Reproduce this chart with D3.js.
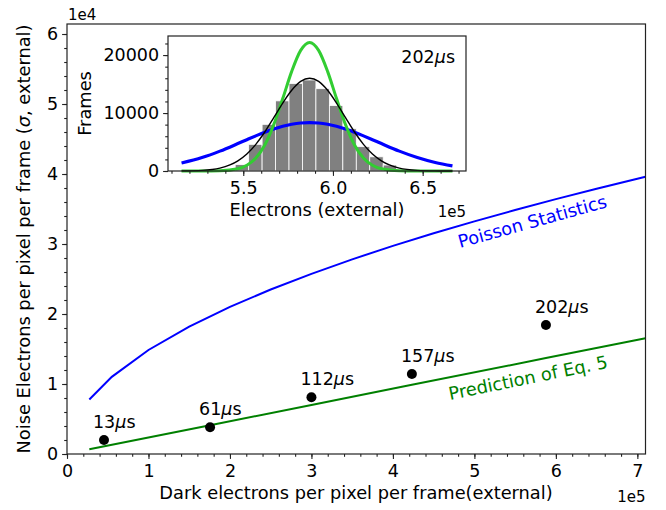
<!DOCTYPE html>
<html>
<head>
<meta charset="utf-8">
<script src="https://d3js.org/d3.v7.min.js"></script>
<style>
  body { margin: 0; background: #fff; }
  text { font-family: "DejaVu Sans", sans-serif; }
</style>
</head>
<body>
<script>
// main plot: x in units of 1e5 electrons, y in units of 1e4 electrons
var darkX = [0.454, 1.756, 3.0, 4.233, 5.878];
var noiseY = [0.20, 0.381, 0.81, 1.143, 1.843];
var expLabels = ["13", "61", "112", "157", "202"];

var poissonX = [0.274, 0.55, 1.0, 1.5, 2.0, 2.5, 3.0, 3.5, 4.0, 4.5, 5.0, 5.5, 6.0, 6.5, 7.1];
var poissonY = [0.778, 1.102, 1.486, 1.820, 2.102, 2.350, 2.574, 2.781, 2.973, 3.153, 3.323, 3.486, 3.641, 3.789, 3.960];

var predX = [0.274, 1.756, 3.0, 4.233, 5.878, 7.1];
var predY = [0.067, 0.411, 0.701, 0.988, 1.370, 1.654];

var mainTicksX = [0, 1, 2, 3, 4, 5, 6, 7];
var mainTicksY = [0, 1, 2, 3, 4, 5, 6];

// inset: 202us frame histogram, x in 1e5 electrons, y in frames
var binEdges = [5.38, 5.455, 5.53, 5.605, 5.68, 5.755, 5.83, 5.905, 5.98, 6.055, 6.13, 6.205, 6.28, 6.355, 6.43];
var binCounts = [250, 1100, 4600, 8050, 12100, 15100, 15700, 14200, 11300, 7300, 4200, 2450, 1030, 250];

var insetX = [5.156, 5.27, 5.37, 5.47, 5.52, 5.57, 5.62, 5.67, 5.72, 5.77, 5.82, 5.87,
              5.92, 5.97, 6.02, 6.07, 6.12, 6.17, 6.22, 6.27, 6.37, 6.47, 6.57, 6.666];
var fitBlue = [1380, 2320, 3430, 4730, 5400, 6060, 6690, 7240, 7710, 8060, 8280, 8350,
               8280, 8060, 7710, 7240, 6690, 6060, 5400, 4730, 3430, 2320, 1460, 880];
var fitBlack = [15, 110, 500, 1750, 2930, 4600, 6730, 9200, 11720, 13930, 15460, 16000,
                15460, 13930, 11720, 9200, 6730, 4600, 2930, 1750, 500, 110, 20, 0];
var fitGreen = [0, 2, 40, 380, 980, 2230, 4500, 8000, 12490, 17190, 20810, 22180,
                20810, 17190, 12490, 8000, 4500, 2230, 980, 380, 40, 2, 0, 0];

var insetTicksX = [5.5, 6.0, 6.5];
var insetTicksY = [0, 10000, 20000];

var W = 666, H = 510;
var svg = d3.select("body").append("svg").attr("width", W).attr("height", H);

var x = d3.scaleLinear().domain([0, 7.1]).range([67, 645.5]);
var y = d3.scaleLinear().domain([0, 6.143]).range([454, 24]);

svg.append("clipPath").attr("id", "mainclip")
  .append("rect").attr("x", 67).attr("y", 24).attr("width", 578.5).attr("height", 430);

function range(a, b, s) {
  var out = [];
  for (var v = a; v <= b + 1e-9; v += s) out.push(+v.toFixed(4));
  return out;
}

function styleAxis(g) {
  g.select(".domain").remove();
  g.selectAll("line").attr("stroke", "#222").attr("stroke-width", 1.1);
  g.selectAll("text").attr("font-family", "DejaVu Sans").attr("font-size", "17.5px").attr("fill", "#000");
}

// main axes ticks
svg.append("g").attr("transform", "translate(0,454)")
  .call(d3.axisBottom(x).tickValues(range(0, 7.0, 0.2)).tickSize(2.8).tickFormat(""))
  .call(styleAxis);
svg.append("g").attr("transform", "translate(0,454)")
  .call(d3.axisBottom(x).tickValues(mainTicksX).tickSize(4.9).tickPadding(6).tickFormat(d3.format("d")))
  .call(styleAxis);
svg.append("g").attr("transform", "translate(67,0)")
  .call(d3.axisLeft(y).tickValues(range(0, 6.0, 0.2)).tickSize(2.8).tickFormat(""))
  .call(styleAxis);
svg.append("g").attr("transform", "translate(67,0)")
  .call(d3.axisLeft(y).tickValues(mainTicksY).tickSize(4.9).tickPadding(4).tickFormat(d3.format("d")))
  .call(styleAxis);

var plot = svg.append("g").attr("clip-path", "url(#mainclip)");

var line = d3.line().x(function (d) { return x(d[0]); }).y(function (d) { return y(d[1]); });

plot.append("path")
  .attr("d", line(d3.zip(poissonX, poissonY)))
  .attr("fill", "none").attr("stroke", "#0000ff").attr("stroke-width", 2);

plot.append("path")
  .attr("d", line(d3.zip(predX, predY)))
  .attr("fill", "none").attr("stroke", "#008000").attr("stroke-width", 2);

plot.selectAll("circle.pt").data(d3.zip(darkX, noiseY)).enter()
  .append("circle").attr("class", "pt")
  .attr("cx", function (d) { return x(d[0]); })
  .attr("cy", function (d) { return y(d[1]); })
  .attr("r", 5).attr("fill", "#000");

// exposure labels
var lab = svg.selectAll("text.exp").data(d3.zip(darkX, noiseY, expLabels)).enter()
  .append("text").attr("class", "exp")
  .attr("x", function (d) { return x(d[0]) - 11; })
  .attr("y", function (d) { return y(d[1]) - 12; })
  .attr("font-size", "17.5px").attr("fill", "#000");
lab.append("tspan").text(function (d) { return d[2]; });
lab.append("tspan").attr("font-style", "italic").text("\u03bc");
lab.append("tspan").text("s");

svg.append("text")
  .attr("transform", "translate(460,248) rotate(-15.5)")
  .attr("font-size", "17.8px").attr("fill", "#0000ff")
  .text("Poisson Statistics");

svg.append("text")
  .attr("transform", "translate(450,400) rotate(-11.5)")
  .attr("font-size", "17.8px").attr("fill", "#008000")
  .text("Prediction of Eq. 5");

// frame
svg.append("rect").attr("x", 67).attr("y", 24).attr("width", 578.5).attr("height", 430)
  .attr("fill", "none").attr("stroke", "#222").attr("stroke-width", 1.2);

// main labels
svg.append("text").attr("x", 356).attr("y", 499).attr("text-anchor", "middle")
  .attr("font-size", "17.8px").text("Dark electrons per pixel per frame(external)");
svg.append("text").attr("x", 645.5).attr("y", 502).attr("text-anchor", "end")
  .attr("font-size", "15px").text("1e5");
svg.append("text").attr("x", 68).attr("y", 20)
  .attr("font-size", "15px").text("1e4");

var yl = svg.append("text").attr("transform", "translate(30,239) rotate(-90)")
  .attr("text-anchor", "middle").attr("font-size", "17.8px");
yl.append("tspan").text("Noise Electrons per pixel per frame (");
yl.append("tspan").attr("font-style", "italic").text("\u03c3");
yl.append("tspan").text(", external)");

// ---- inset ----
var ix = d3.scaleLinear().domain([5.0805, 6.7415]).range([168, 466]);
var iy = d3.scaleLinear().domain([0, 23290]).range([171, 36]);

svg.append("rect").attr("x", 168).attr("y", 36).attr("width", 298).attr("height", 135)
  .attr("fill", "#fff");

svg.append("g").selectAll("rect").data(binCounts).enter()
  .append("rect")
  .attr("x", function (d, i) { return ix(binEdges[i]); })
  .attr("width", function (d, i) { return ix(binEdges[i + 1]) - ix(binEdges[i]); })
  .attr("y", function (d) { return iy(d); })
  .attr("height", function (d) { return iy(0) - iy(d); })
  .attr("fill", "#808080").attr("stroke", "#fff").attr("stroke-width", 0.8);

var iline = d3.line().curve(d3.curveMonotoneX)
  .x(function (d) { return ix(d[0]); }).y(function (d) { return iy(d[1]); });

svg.append("path").attr("d", iline(d3.zip(insetX, fitBlue)))
  .attr("fill", "none").attr("stroke", "#0000ff").attr("stroke-width", 3.2);
svg.append("path").attr("d", iline(d3.zip(insetX, fitGreen)))
  .attr("fill", "none").attr("stroke", "#32cd32").attr("stroke-width", 3);
svg.append("path").attr("d", iline(d3.zip(insetX, fitBlack)))
  .attr("fill", "none").attr("stroke", "#000").attr("stroke-width", 1.4);

svg.append("g").attr("transform", "translate(0,171)")
  .call(d3.axisBottom(ix).tickValues(range(5.1, 6.7, 0.1)).tickSize(2.8).tickFormat(""))
  .call(styleAxis);
svg.append("g").attr("transform", "translate(0,171)")
  .call(d3.axisBottom(ix).tickValues(insetTicksX).tickSize(4.9).tickPadding(6).tickFormat(d3.format(".1f")))
  .call(styleAxis);
svg.append("g").attr("transform", "translate(168,0)")
  .call(d3.axisLeft(iy).tickValues(range(0, 22000, 2000)).tickSize(2.8).tickFormat(""))
  .call(styleAxis);
svg.append("g").attr("transform", "translate(168,0)")
  .call(d3.axisLeft(iy).tickValues(insetTicksY).tickSize(4.9).tickPadding(4).tickFormat(d3.format("d")))
  .call(styleAxis);

svg.append("rect").attr("x", 168).attr("y", 36).attr("width", 298).attr("height", 135)
  .attr("fill", "none").attr("stroke", "#222").attr("stroke-width", 1.2);

svg.append("text").attr("x", 317).attr("y", 216).attr("text-anchor", "middle")
  .attr("font-size", "17.8px").text("Electrons (external)");
svg.append("text").attr("x", 466).attr("y", 216.5).attr("text-anchor", "end")
  .attr("font-size", "15px").text("1e5");
svg.append("text").attr("transform", "translate(91,103.5) rotate(-90)")
  .attr("text-anchor", "middle").attr("font-size", "17.8px").text("Frames");

var it = svg.append("text").attr("x", 455).attr("y", 63).attr("text-anchor", "end")
  .attr("font-size", "17.5px");
it.append("tspan").text("202");
it.append("tspan").attr("font-style", "italic").text("\u03bc");
it.append("tspan").text("s");
</script>
</body>
</html>
